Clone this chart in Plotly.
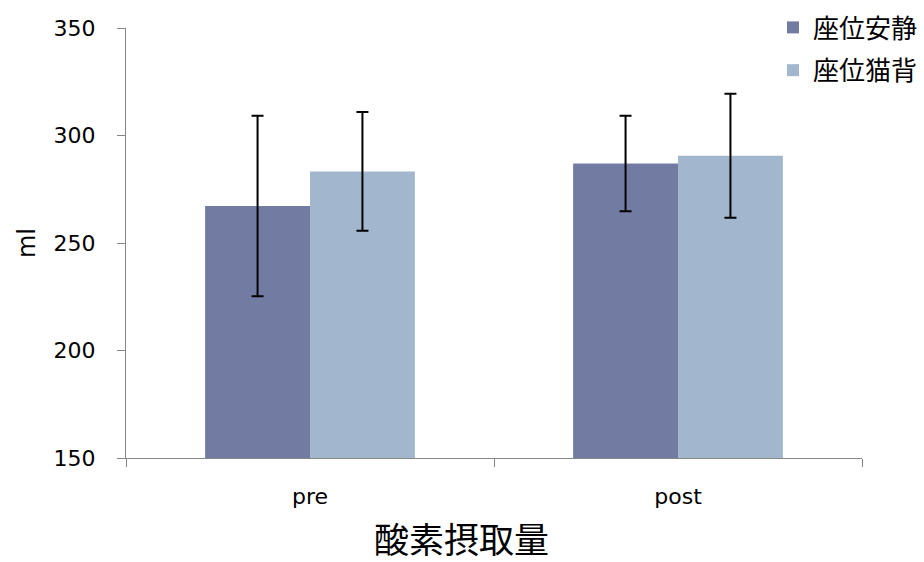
import plotly.graph_objects as go

# Oxygen uptake, before and after, for two sitting postures
phases = ["pre", "post"]
series_names = ["座位安静", "座位猫背"]
rest_mean = [267.2, 287.0]
rest_err = [42.0, 22.2]
slouch_mean = [283.3, 290.6]
slouch_err = [27.6, 28.8]
y_ticks = [150, 200, 250, 300, 350]
x_title = "酸素摂取量"

colors = ["#727ca3", "#a2b7cd"]
tick_font = dict(family="DejaVu Sans, Verdana, sans-serif", size=22, color="#000000")

fig = go.Figure()
for name, means, errs, col in [
    (series_names[0], rest_mean, rest_err, colors[0]),
    (series_names[1], slouch_mean, slouch_err, colors[1]),
]:
    fig.add_trace(go.Bar(
        x=phases, y=[m - 150 for m in means], base=150, name=name,
        legendgroup=name,
        marker=dict(color=col, line=dict(width=0)),
        error_y=dict(type="data", array=errs, color="#000000", thickness=2, width=6),
    ))

# category title sits a little left of the axis centre
fig.add_annotation(
    text=x_title, xref="paper", yref="paper", x=0.4565, y=-0.184,
    xanchor="center", yanchor="middle", showarrow=False,
    font=dict(family="Noto Sans CJK JP", size=35, color="#000000"),
)

fig.update_layout(
    width=924, height=562,
    margin=dict(l=126, r=62, t=28, b=104, autoexpand=False),
    paper_bgcolor="#ffffff", plot_bgcolor="#ffffff",
    barmode="group", bargap=0.43, bargroupgap=0,
    showlegend=True,
    legend=dict(
        xref="container", yref="container",
        x=773 / 924, y=1 - 4 / 562, xanchor="left", yanchor="top",
        font=dict(family="Noto Sans CJK JP", size=26, color="#000000"),
        bgcolor="rgba(0,0,0,0)", tracegroupgap=6, itemwidth=30,
    ),
    xaxis=dict(
        showline=True, linecolor="#868686", linewidth=1,
        ticks="outside", tickson="boundaries", ticklen=8, tickcolor="#868686",
        tickfont=tick_font, ticklabelstandoff=19,
        showgrid=False, zeroline=False,
    ),
    yaxis=dict(
        range=[150, 350], tickvals=y_ticks,
        showline=True, linecolor="#868686", linewidth=1,
        ticks="outside", ticklen=8, tickcolor="#868686",
        tickfont=tick_font, ticklabelstandoff=17,
        title=dict(text="ml", font=dict(family="DejaVu Sans, Verdana, sans-serif", size=24, color="#000000"), standoff=11),
        showgrid=False, zeroline=False,
    ),
)

fig.write_html("out.html")
